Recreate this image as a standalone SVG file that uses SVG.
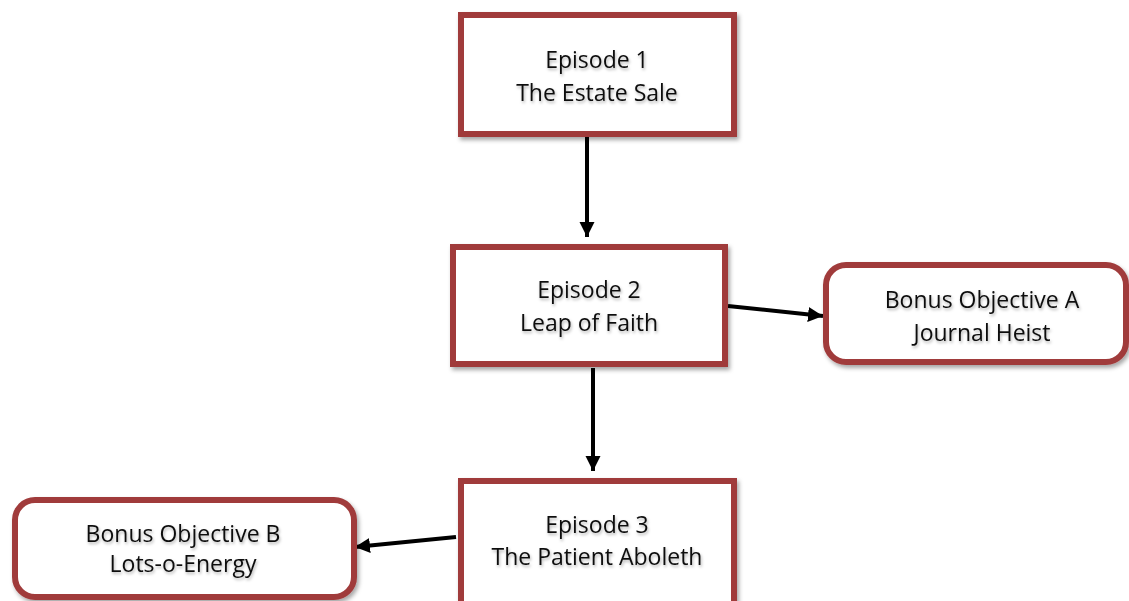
<svg xmlns="http://www.w3.org/2000/svg" width="1129" height="601" viewBox="0 0 1129 601">
<defs>
<filter id="sh" x="-10%" y="-10%" width="125%" height="130%">
<feDropShadow dx="2" dy="3" stdDeviation="2" flood-color="#000" flood-opacity="0.35"/>
</filter>
<filter id="tsh" x="-10%" y="-20%" width="120%" height="150%">
<feDropShadow dx="1" dy="2" stdDeviation="1.5" flood-color="#000" flood-opacity="0.3"/>
</filter>
<marker id="ah" markerUnits="userSpaceOnUse" markerWidth="18" markerHeight="18" refX="15" refY="9" orient="auto">
<path d="M0,1.5 L15,9 L0,16.5 Z" fill="#000"/>
</marker>
<style>
.box{fill:#fff;stroke:#A03B3B;stroke-width:6;filter:url(#sh)}
.t{font-family:"Open Sans","Liberation Sans",sans-serif;font-size:23px;fill:#111;text-anchor:middle;filter:url(#tsh)}
.c{stroke:#000;stroke-width:4;fill:none;marker-end:url(#ah)}
</style>
</defs>
<rect width="1129" height="601" fill="#fff"/>
<g id="connectors">
<line class="c" x1="587" y1="136" x2="587" y2="237"/>
<line class="c" x1="728" y1="306" x2="823" y2="316"/>
<line class="c" x1="593" y1="368" x2="593" y2="471"/>
<line class="c" x1="456" y1="537" x2="355" y2="547"/>
</g>
<g id="ep1">
<rect class="box" x="461" y="15" width="273" height="119"/>
<text class="t" x="597" y="68">Episode 1</text>
<text class="t" x="597" y="101">The Estate Sale</text>
</g>
<g id="ep2">
<rect class="box" x="453" y="247" width="272" height="117"/>
<text class="t" x="589" y="298">Episode 2</text>
<text class="t" x="589" y="331">Leap of Faith</text>
</g>
<g id="bonusA">
<rect class="box" x="826" y="265" width="300" height="97" rx="20" ry="20"/>
<text class="t" x="982" y="308">Bonus Objective A</text>
<text class="t" x="982" y="341">Journal Heist</text>
</g>
<g id="ep3">
<rect class="box" x="461" y="481" width="273" height="130"/>
<text class="t" x="597" y="533">Episode 3</text>
<text class="t" x="597" y="565">The Patient Aboleth</text>
</g>
<g id="bonusB">
<rect class="box" x="15" y="500" width="339" height="97" rx="20" ry="20"/>
<text class="t" x="183" y="542">Bonus Objective B</text>
<text class="t" x="183" y="572">Lots-o-Energy</text>
</g>
</svg>
